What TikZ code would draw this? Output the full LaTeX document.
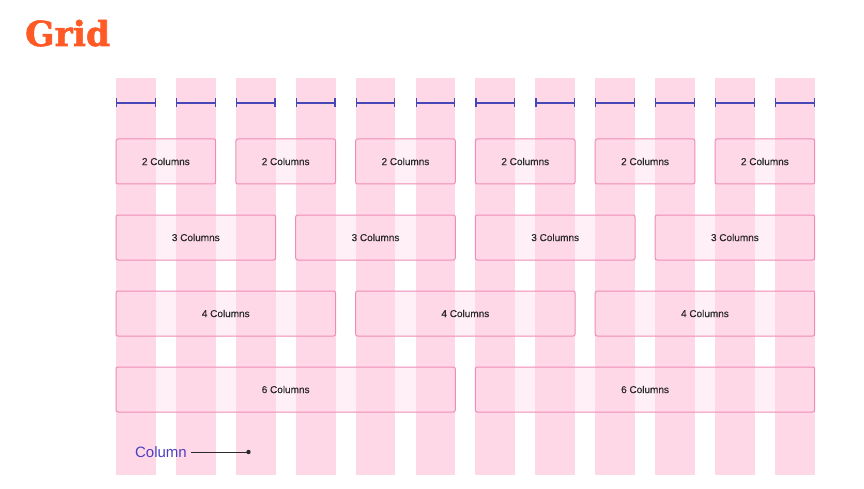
\documentclass[tikz,border=0pt]{standalone}
\usepackage{fontspec}
\setmainfont{Liberation Sans}
\newfontfamily\titlefont{DejaVu Serif Bold}[FakeBold=1.6]
\newfontfamily\labelfont{Liberation Sans}[FakeBold=0.4]
\usetikzlibrary{arrows.meta}
\definecolor{colpink}{HTML}{FFD8E8}
\definecolor{boxedge}{HTML}{EE8CB4}
\definecolor{measure}{HTML}{4747B5}
\definecolor{labelblue}{HTML}{4B3FBF}
\definecolor{titleorange}{HTML}{FF5A26}
\definecolor{inkdark}{HTML}{2A2A2A}
\tikzset{
  gridcol/.style={fill=colpink, draw=none},
  measurebar/.style={draw=measure, line width=1.2pt, {Bar[width=9pt,line width=1.2pt]}-{Bar[width=9pt,line width=1.2pt]}},
  spanbox/.style={draw=boxedge, line width=1pt, fill=colpink, fill opacity=0.4, text opacity=1,
    rounded corners=2pt, minimum height=45pt, inner sep=0pt, font=\labelfont\fontsize{10}{12}\selectfont, text=inkdark},
  pointer/.style={draw=inkdark, line width=0.9pt},
}
\begin{document}
\begin{tikzpicture}[x=1pt, y=-1pt]
  \useasboundingbox (0,0) rectangle (864,489);
  \def\colx{116}
  \def\pitch{59.9}
  \def\colw{39.8}

  % title
  \node[anchor=base west, inner sep=0pt, text=titleorange, font=\titlefont\fontsize{34.5}{40}\selectfont] (title) at (25,46) {Grid};

  % twelve columns with their width markers
  \foreach \i in {0,...,11}{
    \pgfmathsetmacro{\xl}{\colx+\i*\pitch}
    \pgfmathsetmacro{\xr}{\xl+\colw}
    \fill[gridcol] (\xl,78) rectangle (\xr,475);
    \coordinate (ml\i) at (\xl,103);
    \coordinate (mr\i) at (\xr,103);
    \draw[measurebar] (ml\i) -- (mr\i);
  }

  % spans: columns per box / row centre / list of start columns
  \foreach \k/\yc/\starts in {2/161.5/{0,2,4,6,8,10}, 3/237.5/{0,3,6,9}, 4/313.5/{0,4,8}, 6/389.5/{0,6}}{
    \foreach \s in \starts {
      \pgfmathsetmacro{\xl}{\colx+\s*\pitch}
      \pgfmathsetmacro{\xr}{\colx+(\s+\k-1)*\pitch+\colw}
      \pgfmathsetmacro{\boxw}{\xr-\xl}
      \pgfmathsetmacro{\xm}{(\xl+\xr)/2}
      \node[spanbox, minimum width=\boxw pt] (span\k-\s) at (\xm,\yc) {\k{} Columns};
    }
  }

  % column callout
  \node[anchor=east, inner sep=4pt, text=labelblue, font=\fontsize{15}{18}\selectfont] (collabel) at (191,452) {Column};
  \coordinate (coldot) at (248.5,452);
  \draw[pointer] (collabel.east) -- (coldot);
  \fill[inkdark] (coldot) circle (2.2pt);
\end{tikzpicture}
\end{document}
